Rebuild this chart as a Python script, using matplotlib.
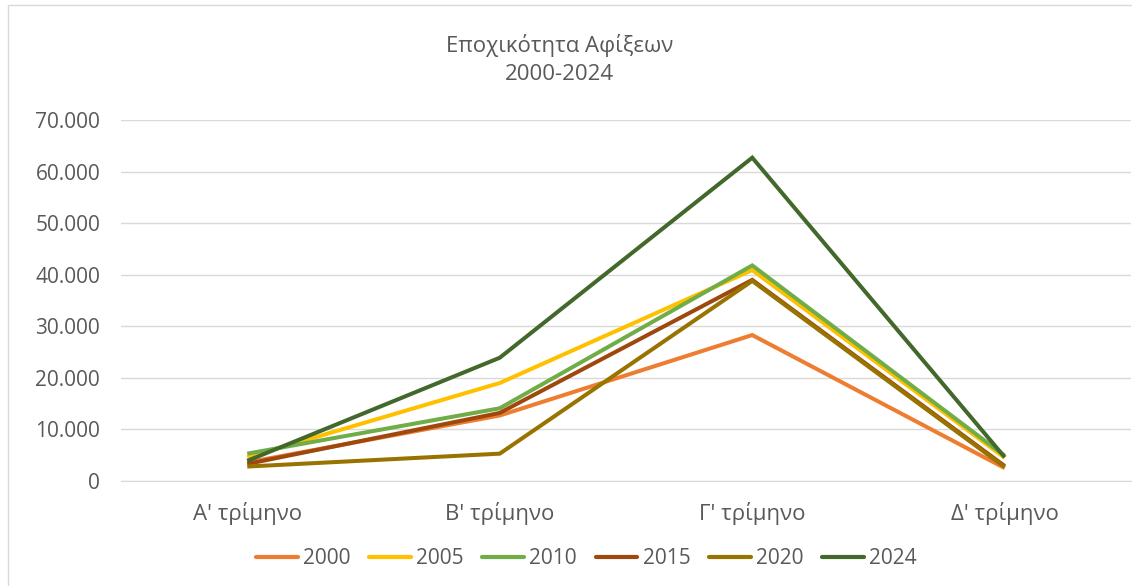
import matplotlib.pyplot as plt
from matplotlib.patches import Rectangle
from matplotlib.ticker import FuncFormatter
from matplotlib.lines import Line2D

plt.rcParams['font.family'] = ['Open Sans', 'DejaVu Sans']

# --- Data ---
quarters = ["Α' τρίμηνο", "Β' τρίμηνο", "Γ' τρίμηνο", "Δ' τρίμηνο"]
years = ['2000', '2005', '2010', '2015', '2020', '2024']
arr_2000 = [3600, 12700, 28300, 2500]
arr_2005 = [4600, 19000, 40900, 4500]
arr_2010 = [5300, 14100, 41800, 4900]
arr_2015 = [3300, 13200, 39000, 2900]
arr_2020 = [2800, 5300, 38800, 2700]
arr_2024 = [3900, 23900, 62700, 4600]
series = [arr_2000, arr_2005, arr_2010, arr_2015, arr_2020, arr_2024]
colors = ['#ED7D31', '#FFC000', '#70AD47', '#9E480E', '#997300', '#43682B']

TEXT = '#595959'
GRID = '#d9d9d9'

fig = plt.figure(figsize=(11.32, 5.86), dpi=100)
ax = fig.add_axes([0.1069, 0.1792, 0.8922, 0.616])

# outer frame of the chart area
fig.patches.append(Rectangle((8 / 1132, -0.01), 1.0, 1 - 5 / 586 + 0.01,
                             transform=fig.transFigure, fill=False,
                             edgecolor=GRID, linewidth=1))

x = list(range(len(quarters)))
for vals, col, yr in zip(series, colors, years):
    ax.plot(x, vals, color=col, linewidth=2.9, label=yr,
            solid_joinstyle='miter', solid_capstyle='butt')

ax.set_xlim(-0.5, 3.5)
ax.set_ylim(0, 70000)
ax.set_yticks(range(0, 70001, 10000))
ax.yaxis.set_major_formatter(FuncFormatter(lambda v, p: f'{int(v):,}'.replace(',', '.')))
ax.set_xticks(x)
ax.set_xticklabels(quarters)
ax.grid(axis='y', color=GRID, linewidth=1)
ax.set_axisbelow(True)
for s in ['top', 'right', 'left']:
    ax.spines[s].set_visible(False)
ax.spines['bottom'].set_color(GRID)
ax.tick_params(length=0, labelcolor=TEXT)
ax.tick_params(axis='y', pad=15, labelsize=15)
ax.tick_params(axis='x', pad=15, labelsize=16)

fig.text(0.494, 0.898, 'Εποχικότητα Αφίξεων\n2000-2024', ha='center', va='center',
         fontsize=16, color=TEXT, linespacing=1.45)

handles = [Line2D([], [], color=c, linewidth=3, solid_capstyle='round') for c in colors]
fig.legend(handles, years, loc='center', bbox_to_anchor=(0.518, 0.047), ncol=6,
           frameon=False, fontsize=15, labelcolor=TEXT, handlelength=2.0,
           handletextpad=0.25, columnspacing=0.9)

fig.savefig('out.png', dpi=100)
